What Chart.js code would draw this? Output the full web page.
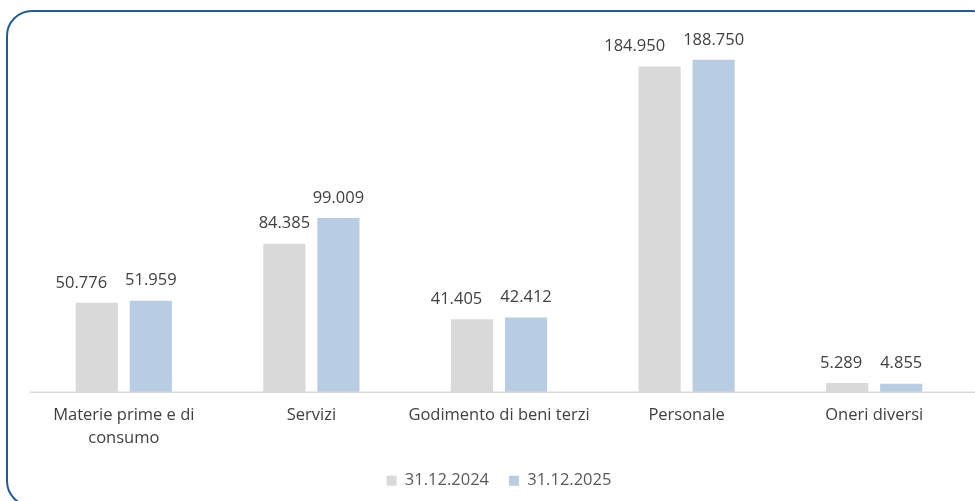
<!DOCTYPE html>
<html>
<head>
<meta charset="utf-8">
<script src="https://cdn.jsdelivr.net/npm/chart.js@4"></script>
<style>
  html, body { margin: 0; padding: 0; background: #fff; }
  #wrap { width: 975px; height: 501px; }
</style>
</head>
<body>
<div id="wrap"><canvas id="myChart" width="975" height="501"></canvas></div>
<script>
  const categories = [['Materie prime e di', 'consumo'], 'Servizi', 'Godimento di beni terzi', 'Personale', 'Oneri diversi'];
  const seriesNames = ['31.12.2024', '31.12.2025'];
  const values2024 = [50776, 84385, 41405, 184950, 5289];
  const values2025 = [51959, 99009, 42412, 188750, 4855];

  // frame round the chart (cut off at right and bottom, as in the picture)
  const frame = {
    id: 'frame',
    beforeDraw: (chart) => {
      const ctx = chart.ctx;
      ctx.save();
      ctx.strokeStyle = '#1f5c9e';
      ctx.lineWidth = 2;
      ctx.beginPath();
      ctx.roundRect(7, 11, 990, 495, 25);
      ctx.stroke();
      ctx.restore();
    }
  };

  // baseline running to the right edge
  const baseline = {
    id: 'baseline',
    afterDatasetsDraw: (chart) => {
      const ctx = chart.ctx;
      const y = chart.scales.y.getPixelForValue(0);
      ctx.save();
      ctx.strokeStyle = '#d9d9d9';
      ctx.lineWidth = 1.5;
      ctx.beginPath();
      ctx.moveTo(chart.chartArea.left, y);
      ctx.lineTo(chart.width, y);
      ctx.stroke();
      ctx.restore();
    }
  };

  // value labels above bars; the left label moves left when the two would touch
  const valueLabels = {
    id: 'valueLabels',
    afterDatasetsDraw: (chart) => {
      const ctx = chart.ctx;
      const minGap = 18;
      ctx.save();
      ctx.font = '16.5px "Open Sans"';
      ctx.fillStyle = '#404040';
      ctx.textAlign = 'center';
      ctx.textBaseline = 'middle';
      const a = chart.getDatasetMeta(0).data;
      const b = chart.getDatasetMeta(1).data;
      chart.data.labels.forEach((_, j) => {
        const t0 = values2024[j].toLocaleString('it-IT');
        const t1 = values2025[j].toLocaleString('it-IT');
        const w0 = ctx.measureText(t0).width;
        const w1 = ctx.measureText(t1).width;
        let x0 = a[j].x;
        const x1 = b[j].x;
        const y0 = a[j].y - 20, y1 = b[j].y - 20;
        const overlapV = Math.abs(y0 - y1) < 22;
        if (overlapV && (x0 + w0 / 2) > (x1 - w1 / 2 - minGap)) {
          x0 = x1 - w1 / 2 - minGap - w0 / 2;
        }
        ctx.fillText(t0, x0, y0);
        ctx.fillText(t1, x1, y1);
      });
      ctx.restore();
    }
  };

  let myChart = new Chart(document.getElementById('myChart'), {
    type: 'bar',
    data: {
      labels: categories,
      datasets: [{
        label: seriesNames[0],
        backgroundColor: '#d9d9d9',
        data: values2024,
      }, {
        label: seriesNames[1],
        backgroundColor: '#b8cce4',
        data: values2025,
      }]
    },
    plugins: [frame, baseline, valueLabels],
    options: {
      responsive: false,
      animation: false,
      layout: { padding: { left: 30, right: 7, top: 40, bottom: 2 } },
      datasets: {
        bar: { categoryPercentage: 0.576, barPercentage: 0.78 }
      },
      scales: {
        x: {
          grid: { display: false },
          border: { display: false },
          ticks: {
            color: '#404040',
            font: { family: 'Open Sans', size: 16.5, lineHeight: 1.4 },
            padding: 3,
            maxRotation: 0
          }
        },
        y: {
          display: false,
          min: 0,
          max: 200000
        }
      },
      plugins: {
        tooltip: { enabled: false },
        legend: {
          display: true,
          position: 'bottom',
          labels: {
            color: '#595959',
            font: { family: 'Open Sans', size: 16.5, lineHeight: 1 },
            boxWidth: 10,
            boxHeight: 10,
            padding: 20
          }
        }
      }
    }
  })
</script>
</body>
</html>
